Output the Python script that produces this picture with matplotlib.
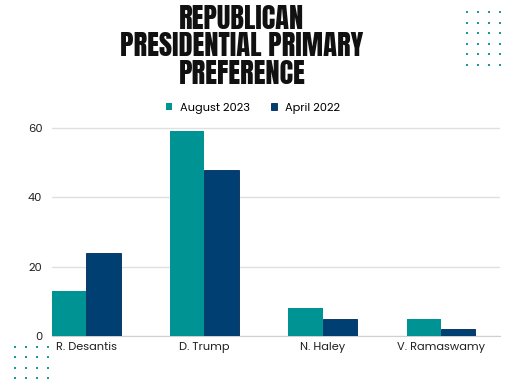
import matplotlib
matplotlib.use("Agg")
import matplotlib.pyplot as plt
import numpy as np
from matplotlib import font_manager

candidates = ["R. Desantis", "D. Trump", "N. Haley", "V. Ramaswamy"]
aug_2023 = [13, 59, 8, 5]
apr_2022 = [24, 48, 5, 2]
series_labels = ["August 2023", "April 2022"]
yticks = [0, 20, 40, 60]
title = "REPUBLICAN\nPRESIDENTIAL PRIMARY\nPREFERENCE"

TEAL = "#009394"
NAVY = "#003f72"

names = {f.name for f in font_manager.fontManager.ttflist}
def pick(opts, default):
    for o in opts:
        if o in names:
            return o
    return default

title_font = pick(["Anton", "Bebas Neue", "Oswald", "League Gothic"], "DejaVu Sans")
body_font = pick(["Poppins", "Noto Sans"], "DejaVu Sans")
title_kw = {} if title_font != "DejaVu Sans" else {"fontstretch": "condensed", "fontweight": "heavy"}

fig = plt.figure(figsize=(5.12, 3.84), dpi=100)
ax = fig.add_axes([52/512, 1 - 336/384, (500-52)/512, (336-128)/384 * 70/60])

x = np.arange(len(candidates))
w = 0.29
ax.bar(x - w/2, aug_2023, w, color=TEAL, label=series_labels[0], zorder=3)
ax.bar(x + w/2, apr_2022, w, color=NAVY, edgecolor="#00285a", linewidth=0.6, label=series_labels[1], zorder=3)

ax.set_xlim(-0.29, 3.5)
ax.set_ylim(0, 70)
ax.set_yticks(yticks)
ax.set_xticks(x)
ax.set_xticklabels(candidates, fontsize=8.2, family=body_font, color="#222222")
ax.set_yticklabels([str(v) for v in yticks], fontsize=8.2, family=body_font, color="#222222")
ax.tick_params(length=0, pad=4)
ax.tick_params(axis="y", pad=7)
ax.yaxis.grid(True, color="#e0e0e0", linewidth=1, zorder=0)
for s in ["top", "right", "left"]:
    ax.spines[s].set_visible(False)
ax.spines["bottom"].set_color("#d0d0d0")

fig.text(242/512, 1 - 46/384, title, ha="center", va="center", fontsize=20.5,
         family=title_font, linespacing=1.04, color="#111111", **title_kw)

leg = fig.legend(loc="center", bbox_to_anchor=(253/512, 1 - 108/384), ncol=2, frameon=False,
                 prop={"family": body_font, "size": 8.2}, handlelength=0.55, handleheight=0.55,
                 columnspacing=1.8, handletextpad=0.7)

# decorative dot grids
for cx in [467, 478, 489, 500]:
    for cy in [12, 23, 33, 44, 54, 65]:
        fig.patches.append(plt.Rectangle(((cx-0.75)/512, 1-(cy+0.75)/384), 1.5/512, 1.5/384,
                                         transform=fig.transFigure, color="#1a9a9a", lw=0))
for cx in [15, 26, 37, 48]:
    for cy in [347, 357, 368, 378]:
        fig.patches.append(plt.Rectangle(((cx-0.75)/512, 1-(cy+0.75)/384), 1.5/512, 1.5/384,
                                         transform=fig.transFigure, color="#1a9a9a", lw=0))

fig.savefig("out.png", dpi=100, facecolor="white")
